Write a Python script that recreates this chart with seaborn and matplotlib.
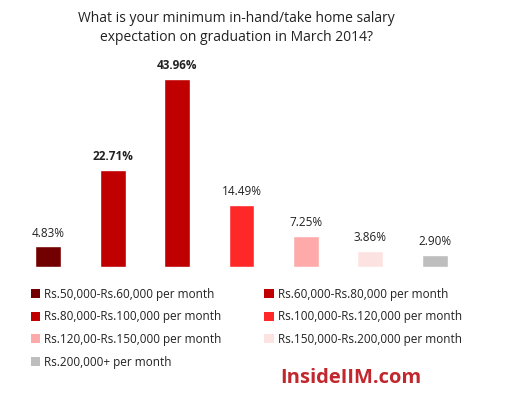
import matplotlib
matplotlib.use("Agg")
import matplotlib.pyplot as plt
from matplotlib.patches import Patch
import pandas as pd
import seaborn as sns

categories = [
    "Rs.50,000-Rs.60,000 per month",
    "Rs.60,000-Rs.80,000 per month",
    "Rs.80,000-Rs.100,000 per month",
    "Rs.100,000-Rs.120,000 per month",
    "Rs.120,00-Rs.150,000 per month",
    "Rs.150,000-Rs.200,000 per month",
    "Rs.200,000+ per month",
]
values = [4.83, 22.71, 43.96, 14.49, 7.25, 3.86, 2.90]
bold_labels = [False, True, True, False, False, False, False]
colors = ["#730000", "#C00000", "#C00000", "#FF2828", "#FFAAAA", "#FDE2E2", "#BEBEBE"]

title = "What is your minimum in-hand/take home salary\nexpectation on graduation in March 2014?"

df = pd.DataFrame({"cat": categories, "val": values})

sns.set_style("white")
plt.rcParams["font.family"] = ["Open Sans", "DejaVu Sans"]

fig = plt.figure(figsize=(5.1, 3.99), dpi=100)
ax = fig.add_axes([16 / 510, 1 - 267 / 399, 451 / 510, 187.7 / 399])

sns.barplot(data=df, x="cat", y="val", hue="cat", palette=colors,
            order=categories, hue_order=categories, dodge=False,
            width=0.4, saturation=1, legend=False, ax=ax)

ax.set_ylim(0, 43.96)
for i, v in enumerate(values):
    ax.text(i, v + 1.6, f"{v:.2f}%", ha="center", va="bottom", fontsize=8.5,
            fontweight="bold" if bold_labels[i] else "normal", color="#222222",
            clip_on=False)

ax.set_xlabel("")
ax.set_ylabel("")
ax.set_xticks([])
ax.set_yticks([])
sns.despine(ax=ax, left=True, bottom=True, top=True, right=True)

fig.text(0.463, 1 - 28 / 399, title, ha="center", va="center", fontsize=10,
         color="#222222", linespacing=1.45)

# legend filled row by row like the original
handles = [Patch(facecolor=c, edgecolor="none") for c in colors]
order = [0, 2, 4, 6, 1, 3, 5]
fig.legend([handles[i] for i in order], [categories[i] for i in order],
           ncol=2, loc="upper left", bbox_to_anchor=(20 / 510, 1 - 277 / 399),
           frameon=False, fontsize=8.5, handlelength=0.8, handleheight=0.8,
           handletextpad=0.35, columnspacing=3.6, labelspacing=0.82,
           labelcolor="#222222")

fig.text(351 / 510, 1 - 378 / 399, "InsideIIM.com", ha="center", va="center",
         fontsize=14.5, fontweight="bold", color="#C1272D")

fig.savefig("out.png", dpi=100)
